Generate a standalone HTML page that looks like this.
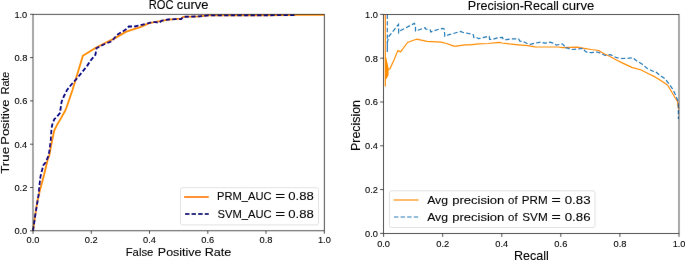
<!DOCTYPE html><html><head><meta charset="utf-8"><style>html,body{margin:0;padding:0;background:#fff;width:685px;height:260px;overflow:hidden}svg{display:block}text{font-family:"Liberation Sans",sans-serif;fill:#000;stroke:#000;stroke-width:0.1px}</style></head><body>
<svg width="685" height="260" viewBox="0 0 685 260">
<defs><filter id="soft" x="0" y="0" width="685" height="260" filterUnits="userSpaceOnUse"><feConvolveMatrix order="3" kernelMatrix="0.0075 0.0300 0.0075 0.0300 0.8500 0.0300 0.0075 0.0300 0.0075" divisor="1" edgeMode="duplicate" preserveAlpha="false"/></filter><filter id="txt" x="0" y="0" width="685" height="260" filterUnits="userSpaceOnUse"><feConvolveMatrix order="3" kernelMatrix="0.0050 0.0200 0.0050 0.0200 0.9000 0.0200 0.0050 0.0200 0.0050" divisor="1" edgeMode="duplicate" preserveAlpha="false"/></filter></defs>
<rect width="685" height="260" fill="#fff"/>
<g filter="url(#soft)">
<polyline points="33.0,230.8 35.2,215.0 37.6,200.0 40.0,190.0 44.0,175.0 47.6,160.0 49.4,155.0 51.2,145.0 52.2,140.0 54.3,130.3 57.1,124.8 61.2,117.9 65.4,110.2 66.5,107.5 72.5,90.0 82.9,55.8 95.8,47.7 105.0,43.0 115.0,38.1 125.8,31.9 130.0,30.3 139.6,27.4 149.2,23.1 158.8,21.4 168.5,19.7 175.0,19.2 181.0,18.6 183.4,16.8 199.2,16.4 208.5,15.3 294.6,15.2 294.6,14.8 324.2,14.8" fill="none" stroke="#ff8c00" stroke-width="1.8" stroke-linejoin="round"/>
<polyline points="33.0,230.8 35.3,215.0 37.4,202.0 38.6,195.0 39.4,185.8 40.5,176.5 42.0,170.4 43.5,165.0 45.5,162.7 46.3,161.0 48.8,155.0 49.8,148.0 50.8,140.0 51.5,128.9 52.2,124.8 54.3,119.2 57.1,116.5 59.9,113.0 60.5,109.5 61.0,105.4 61.6,101.7 64.0,96.0 67.1,89.9 71.0,85.0 75.2,80.4 78.5,76.5 82.0,72.3 87.3,65.6 91.0,60.0 95.4,54.8 96.5,48.1 104.2,44.2 111.9,41.2 115.0,37.3 118.1,34.2 125.8,29.6 128.8,26.5 135.0,26.5 139.6,25.5 147.3,23.5 152.1,22.1 156.0,22.1 158.8,22.8 161.7,20.7 168.5,19.5 175.0,19.2 181.1,19.1 183.4,16.8 199.2,16.4 208.5,15.3 294.6,15.2" fill="none" stroke="#000080" stroke-width="1.8" stroke-dasharray="4.4,2.2"/>
<polyline points="385.3,14.6 385.3,86.0 385.3,57.0 386.3,62.0 387.8,68.0 387.8,75.0 386.2,78.0 387.8,69.6 389.9,69.0 394.2,59.5 397.8,50.6 400.6,51.9 407.5,42.5 413.5,40.2 416.6,39.2 427.0,41.3 441.1,42.2 446.6,43.5 453.8,46.1 456.2,46.2 465.0,44.9 469.6,44.9 478.9,43.9 488.1,43.5 499.2,42.4 502.0,43.0 509.2,43.9 518.5,44.8 527.7,45.7 535.1,46.8 558.1,47.0 562.7,47.6 577.4,47.2 583.9,48.3 591.2,49.5 598.6,50.5 603.2,53.2 610.0,56.5 616.0,59.8 622.7,63.1 631.9,67.4 641.2,70.0 648.0,73.5 655.0,76.9 660.0,80.0 667.5,85.0 671.3,91.3 675.0,97.5 677.5,101.3 678.2,106.5 678.5,109.0" fill="none" stroke="#ff8c00" stroke-width="1.2" stroke-linejoin="round"/>
<polygon points="385.0,57 386,57 388.3,67 388.3,75 386.5,79 385.0,79" fill="#ff8c00"/>
<polyline points="387.3,14.6 387.3,52.0 387.4,42.0 388.9,36.3 398.5,24.4 398.7,32.6 400.0,30.8 414.5,23.3 415.5,27.2 415.5,31.0 422.5,28.6 425.2,27.7 425.7,29.0 430.3,30.0 430.8,31.9 438.0,29.5 442.9,28.3 444.3,29.2 444.8,36.2 448.5,34.8 460.5,31.5 463.2,32.5 470.5,33.8 473.3,34.7 473.8,37.5 475.6,37.0 478.9,38.7 486.2,36.8 489.2,36.5 489.7,39.3 492.7,39.3 497.3,37.9 502.4,37.5 503.3,39.3 506.5,39.7 512.0,38.8 518.5,38.8 519.9,41.1 523.1,41.5 527.7,43.9 530.5,44.3 534.2,43.4 540.5,42.2 545.2,43.2 549.8,42.2 553.5,43.2 556.2,45.0 559.5,44.5 562.2,43.9 564.1,45.5 564.5,47.8 568.2,48.2 570.5,49.6 577.4,48.9 583.4,48.3 584.8,50.9 587.1,52.3 591.2,52.6 597.7,52.0 600.5,53.2 605.1,55.5 610.4,54.6 616.5,57.7 622.7,58.5 628.8,58.2 632.7,57.7 636.5,60.8 642.7,64.6 647.3,68.5 653.5,71.5 655.0,71.3 661.3,76.3 665.0,78.8 668.8,83.8 672.5,88.8 675.0,93.8 677.5,100.0 678.3,103.8 678.4,119.0" fill="none" stroke="#1f77b4" stroke-width="1.2" stroke-dasharray="4.4,2.2"/>
<rect x="33.0" y="14.3" width="291.3" height="216.5" fill="none" stroke="#262626" stroke-width="0.8"/>
<line x1="30.0" y1="230.8" x2="33.0" y2="230.8" stroke="#262626" stroke-width="0.8"/>
<line x1="33.0" y1="230.8" x2="33.0" y2="233.8" stroke="#262626" stroke-width="0.8"/>
<line x1="30.0" y1="187.5" x2="33.0" y2="187.5" stroke="#262626" stroke-width="0.8"/>
<line x1="91.3" y1="230.8" x2="91.3" y2="233.8" stroke="#262626" stroke-width="0.8"/>
<line x1="30.0" y1="144.2" x2="33.0" y2="144.2" stroke="#262626" stroke-width="0.8"/>
<line x1="149.5" y1="230.8" x2="149.5" y2="233.8" stroke="#262626" stroke-width="0.8"/>
<line x1="30.0" y1="100.9" x2="33.0" y2="100.9" stroke="#262626" stroke-width="0.8"/>
<line x1="207.8" y1="230.8" x2="207.8" y2="233.8" stroke="#262626" stroke-width="0.8"/>
<line x1="30.0" y1="57.6" x2="33.0" y2="57.6" stroke="#262626" stroke-width="0.8"/>
<line x1="266.0" y1="230.8" x2="266.0" y2="233.8" stroke="#262626" stroke-width="0.8"/>
<line x1="30.0" y1="14.3" x2="33.0" y2="14.3" stroke="#262626" stroke-width="0.8"/>
<line x1="324.3" y1="230.8" x2="324.3" y2="233.8" stroke="#262626" stroke-width="0.8"/>
<rect x="383.6" y="14.4" width="295.4" height="219.0" fill="none" stroke="#262626" stroke-width="0.8"/>
<line x1="380.1" y1="233.4" x2="383.6" y2="233.4" stroke="#262626" stroke-width="0.8"/>
<line x1="383.6" y1="233.4" x2="383.6" y2="236.9" stroke="#262626" stroke-width="0.8"/>
<line x1="380.1" y1="189.6" x2="383.6" y2="189.6" stroke="#262626" stroke-width="0.8"/>
<line x1="442.7" y1="233.4" x2="442.7" y2="236.9" stroke="#262626" stroke-width="0.8"/>
<line x1="380.1" y1="145.8" x2="383.6" y2="145.8" stroke="#262626" stroke-width="0.8"/>
<line x1="501.8" y1="233.4" x2="501.8" y2="236.9" stroke="#262626" stroke-width="0.8"/>
<line x1="380.1" y1="102.0" x2="383.6" y2="102.0" stroke="#262626" stroke-width="0.8"/>
<line x1="560.8" y1="233.4" x2="560.8" y2="236.9" stroke="#262626" stroke-width="0.8"/>
<line x1="380.1" y1="58.2" x2="383.6" y2="58.2" stroke="#262626" stroke-width="0.8"/>
<line x1="619.9" y1="233.4" x2="619.9" y2="236.9" stroke="#262626" stroke-width="0.8"/>
<line x1="380.1" y1="14.4" x2="383.6" y2="14.4" stroke="#262626" stroke-width="0.8"/>
<line x1="679.0" y1="233.4" x2="679.0" y2="236.9" stroke="#262626" stroke-width="0.8"/>
<rect x="180.5" y="187.7" width="138" height="37.2" rx="2" fill="#fff" fill-opacity="0.8" stroke="#d9d9d9" stroke-width="0.8"/>
<line x1="184.1" y1="197.0" x2="208.7" y2="197.0" stroke="#ff8c00" stroke-width="2.0"/>
<line x1="185.0" y1="213.9" x2="208.7" y2="213.9" stroke="#000080" stroke-width="2.0" stroke-dasharray="4.4,2.2"/>
<rect x="389.5" y="190.8" width="205.5" height="36.7" rx="2" fill="#fff" fill-opacity="0.8" stroke="#d9d9d9" stroke-width="0.8"/>
<line x1="393.5" y1="200" x2="418.5" y2="200" stroke="#ff8c00" stroke-width="1.2"/>
<line x1="394.0" y1="217" x2="418.5" y2="217" stroke="#1f77b4" stroke-width="1.2" stroke-dasharray="4.4,2.2"/>
</g><g filter="url(#txt)">
<text x="14.40" y="234.35" font-size="9.3" textLength="12.87" lengthAdjust="spacingAndGlyphs">0.0</text>
<text x="26.55" y="243.10" font-size="9.3" textLength="12.87" lengthAdjust="spacingAndGlyphs">0.0</text>
<text x="14.40" y="191.05" font-size="9.3" textLength="12.97" lengthAdjust="spacingAndGlyphs">0.2</text>
<text x="84.81" y="243.10" font-size="9.3" textLength="12.97" lengthAdjust="spacingAndGlyphs">0.2</text>
<text x="14.40" y="147.75" font-size="9.3" textLength="12.87" lengthAdjust="spacingAndGlyphs">0.4</text>
<text x="143.07" y="243.10" font-size="9.3" textLength="12.87" lengthAdjust="spacingAndGlyphs">0.4</text>
<text x="14.40" y="104.45" font-size="9.3" textLength="12.97" lengthAdjust="spacingAndGlyphs">0.6</text>
<text x="201.33" y="243.10" font-size="9.3" textLength="12.97" lengthAdjust="spacingAndGlyphs">0.6</text>
<text x="14.40" y="61.15" font-size="9.3" textLength="12.97" lengthAdjust="spacingAndGlyphs">0.8</text>
<text x="259.59" y="243.10" font-size="9.3" textLength="12.97" lengthAdjust="spacingAndGlyphs">0.8</text>
<text x="14.40" y="17.85" font-size="9.3" textLength="12.87" lengthAdjust="spacingAndGlyphs">1.0</text>
<text x="317.95" y="243.10" font-size="9.3" textLength="12.87" lengthAdjust="spacingAndGlyphs">1.0</text>
<text x="365.10" y="236.85" font-size="9.3" textLength="12.87" lengthAdjust="spacingAndGlyphs">0.0</text>
<text x="377.15" y="246.50" font-size="9.3" textLength="12.87" lengthAdjust="spacingAndGlyphs">0.0</text>
<text x="365.10" y="193.05" font-size="9.3" textLength="12.97" lengthAdjust="spacingAndGlyphs">0.2</text>
<text x="436.23" y="246.50" font-size="9.3" textLength="12.97" lengthAdjust="spacingAndGlyphs">0.2</text>
<text x="365.10" y="149.25" font-size="9.3" textLength="12.87" lengthAdjust="spacingAndGlyphs">0.4</text>
<text x="495.31" y="246.50" font-size="9.3" textLength="12.87" lengthAdjust="spacingAndGlyphs">0.4</text>
<text x="365.10" y="105.45" font-size="9.3" textLength="12.97" lengthAdjust="spacingAndGlyphs">0.6</text>
<text x="554.39" y="246.50" font-size="9.3" textLength="12.97" lengthAdjust="spacingAndGlyphs">0.6</text>
<text x="365.10" y="61.65" font-size="9.3" textLength="12.97" lengthAdjust="spacingAndGlyphs">0.8</text>
<text x="613.47" y="246.50" font-size="9.3" textLength="12.97" lengthAdjust="spacingAndGlyphs">0.8</text>
<text x="365.10" y="17.85" font-size="9.3" textLength="12.87" lengthAdjust="spacingAndGlyphs">1.0</text>
<text x="672.65" y="246.50" font-size="9.3" textLength="12.87" lengthAdjust="spacingAndGlyphs">1.0</text>
<text x="148.69" y="9.40" font-size="12.2" textLength="24.79" lengthAdjust="spacingAndGlyphs">ROC</text>
<text x="176.77" y="9.40" font-size="12.2" textLength="31.75" lengthAdjust="spacingAndGlyphs">curve</text>
<text x="467.87" y="9.60" font-size="12.2" textLength="90.97" lengthAdjust="spacingAndGlyphs">Precision-Recall</text>
<text x="562.26" y="9.60" font-size="12.2" textLength="32.06" lengthAdjust="spacingAndGlyphs">curve</text>
<text x="125.72" y="256.00" font-size="11.6" textLength="27.62" lengthAdjust="spacingAndGlyphs">False</text>
<text x="157.83" y="256.00" font-size="11.6" textLength="43.65" lengthAdjust="spacingAndGlyphs">Positive</text>
<text x="204.72" y="256.00" font-size="11.6" textLength="26.67" lengthAdjust="spacingAndGlyphs">Rate</text>
<text x="513.97" y="259.70" font-size="12.2" textLength="34.86" lengthAdjust="spacingAndGlyphs">Recall</text>
<text transform="translate(9.00,173.83) rotate(-90)" font-size="11.6" textLength="27.05" lengthAdjust="spacingAndGlyphs">True</text>
<text transform="translate(9.00,144.70) rotate(-90)" font-size="11.6" textLength="45.20" lengthAdjust="spacingAndGlyphs">Positive</text>
<text transform="translate(9.00,94.22) rotate(-90)" font-size="11.6" textLength="22.44" lengthAdjust="spacingAndGlyphs">Rate</text>
<text transform="translate(360.30,150.91) rotate(-90)" font-size="12.2" textLength="50.91" lengthAdjust="spacingAndGlyphs">Precision</text>
<text x="217.11" y="200.40" font-size="11.3" textLength="54.44" lengthAdjust="spacingAndGlyphs">PRM_AUC</text>
<text x="275.15" y="200.40" font-size="11.3" textLength="9.90" lengthAdjust="spacingAndGlyphs">=</text>
<text x="288.24" y="200.40" font-size="11.3" textLength="25.53" lengthAdjust="spacingAndGlyphs">0.88</text>
<text x="217.51" y="217.50" font-size="11.3" textLength="54.05" lengthAdjust="spacingAndGlyphs">SVM_AUC</text>
<text x="275.15" y="217.50" font-size="11.3" textLength="9.90" lengthAdjust="spacingAndGlyphs">=</text>
<text x="288.24" y="217.50" font-size="11.3" textLength="25.53" lengthAdjust="spacingAndGlyphs">0.88</text>
<text x="427.20" y="203.70" font-size="11.5" textLength="20.84" lengthAdjust="spacingAndGlyphs">Avg</text>
<text x="452.21" y="203.70" font-size="11.5" textLength="52.18" lengthAdjust="spacingAndGlyphs">precision</text>
<text x="508.10" y="203.70" font-size="11.5" textLength="9.49" lengthAdjust="spacingAndGlyphs">of</text>
<text x="521.89" y="203.70" font-size="11.5" textLength="25.80" lengthAdjust="spacingAndGlyphs">PRM</text>
<text x="551.41" y="203.70" font-size="11.5" textLength="9.31" lengthAdjust="spacingAndGlyphs">=</text>
<text x="564.74" y="203.70" font-size="11.5" textLength="25.83" lengthAdjust="spacingAndGlyphs">0.83</text>
<text x="427.20" y="220.60" font-size="11.5" textLength="20.84" lengthAdjust="spacingAndGlyphs">Avg</text>
<text x="452.21" y="220.60" font-size="11.5" textLength="52.18" lengthAdjust="spacingAndGlyphs">precision</text>
<text x="508.10" y="220.60" font-size="11.5" textLength="9.49" lengthAdjust="spacingAndGlyphs">of</text>
<text x="522.29" y="220.60" font-size="11.5" textLength="25.41" lengthAdjust="spacingAndGlyphs">SVM</text>
<text x="551.41" y="220.60" font-size="11.5" textLength="9.31" lengthAdjust="spacingAndGlyphs">=</text>
<text x="564.74" y="220.60" font-size="11.5" textLength="25.83" lengthAdjust="spacingAndGlyphs">0.86</text>
</g>
</svg></body></html>
